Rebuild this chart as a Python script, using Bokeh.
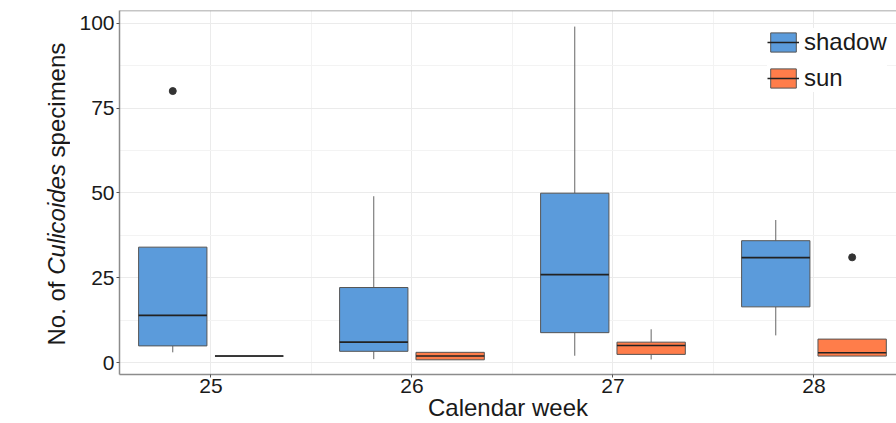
import math
from bokeh.plotting import figure
from bokeh.layouts import row, column
from bokeh.models import (ColumnDataSource, FixedTicker, Span, Legend,
                          LegendItem, Range1d)
from bokeh.core.properties import value
from bokeh.embed import file_html
from bokeh.resources import INLINE

# ---------------- data ----------------
weeks = [25, 26, 27, 28]
tick_values_y = [0, 25, 50, 75, 100]

shadow_low = [3.0, 1.0, 2.0, 8.0]
shadow_q1 = [4.9, 3.3, 8.8, 16.4]
shadow_median = [13.9, 6.0, 25.9, 30.9]
shadow_q3 = [34.0, 22.1, 49.9, 35.9]
shadow_high = [34.0, 49.0, 99.0, 42.0]
shadow_outlier_weeks = [25]
shadow_outlier_values = [80.0]

sun_low = [1.9, 0.8, 0.9, 1.9]
sun_q1 = [1.9, 0.8, 2.4, 1.9]
sun_median = [1.9, 1.9, 5.0, 2.9]
sun_q3 = [1.9, 3.0, 6.0, 6.9]
sun_high = [1.9, 3.0, 9.8, 6.9]
sun_outlier_weeks = [28]
sun_outlier_values = [31.0]

y_title_parts = ["No. of", "Culicoides", "specimens"]
y_title_styles = ["normal", "italic", "normal"]
x_title = "Calendar week"

# ---------------- layout ----------------
TOTAL_W, TOTAL_H = 896, 423
YT_W = 70                      # strip for the y title
MAIN_W = TOTAL_W - YT_W
FL, FR, FT, FB = 49, 0, 10, 49
FRAME_W = MAIN_W - FL - FR
X0, X1 = 24.545, 24.545 + FRAME_W / 201.0
Y0, Y1 = -3.53, 103.74
DODGE = 0.19
BOX_W = 0.34

FONT = "Liberation Sans"
BLUE = "#5b9bdb"
ORANGE = "#ff7d4a"
TEXT = "#1a1a1a"
AXIS = "#8c8c8c"

p = figure(width=MAIN_W, height=TOTAL_H, x_range=Range1d(X0, X1), y_range=Range1d(Y0, Y1),
           output_backend="svg", toolbar_location=None,
           min_border_left=FL, min_border_right=FR,
           min_border_top=FT, min_border_bottom=FB)
p.outline_line_color = None
p.background_fill_color = "white"
p.border_fill_color = "white"

# grids
p.xgrid.ticker = FixedTicker(ticks=weeks, minor_ticks=[w + 0.5 for w in weeks[:-1]])
p.ygrid.ticker = FixedTicker(ticks=tick_values_y,
                             minor_ticks=[t + 12.5 for t in tick_values_y[:-1]])
for g in (p.xgrid, p.ygrid):
    g.grid_line_color = "#ebebeb"
    g.grid_line_width = 1
    g.minor_grid_line_color = "#f3f3f3"
    g.minor_grid_line_width = 1

# axes
p.xaxis.ticker = FixedTicker(ticks=weeks)
p.yaxis.ticker = FixedTicker(ticks=tick_values_y)
for ax in (p.xaxis[0], p.yaxis[0]):
    ax.axis_line_color = AXIS
    ax.axis_line_width = 1.5
    ax.major_tick_line_color = "#555555"
    ax.major_tick_out = 3
    ax.major_tick_in = 0
    ax.minor_tick_line_color = None
    ax.major_label_text_font = FONT
    ax.major_label_text_font_size = "21px"
    ax.major_label_text_color = TEXT
p.yaxis.major_label_standoff = 2
p.xaxis.major_label_standoff = 1
p.xaxis.axis_label = x_title
p.xaxis.axis_label_text_font = FONT
p.xaxis.axis_label_text_font_size = "24px"
p.xaxis.axis_label_text_font_style = "normal"
p.xaxis.axis_label_text_color = TEXT
p.xaxis.axis_label_standoff = -2

# top border of the panel
p.add_layout(Span(location=Y1, dimension="width", line_color=AXIS, line_width=1.5))


def draw_group(offset, low, q1, med, q3, high, ow, ov, color):
    xs = [w + offset for w in weeks]
    src = ColumnDataSource(dict(
        x=xs, low=low, q1=q1, med=med, q3=q3, high=high,
        left=[x - BOX_W / 2 for x in xs], right=[x + BOX_W / 2 for x in xs]))
    p.segment(x0="x", y0="low", x1="x", y1="q1", source=src,
              line_color="#666666", line_width=1)
    p.segment(x0="x", y0="q3", x1="x", y1="high", source=src,
              line_color="#666666", line_width=1)
    box = p.quad(left="left", right="right", bottom="q1", top="q3", source=src,
                 fill_color=color, line_color="#555555", line_width=1)
    med_r = p.segment(x0="left", y0="med", x1="right", y1="med", source=src,
                      line_color="#222222", line_width=1.6)
    p.scatter(x=[w + offset for w in ow], y=ov, size=7, color="#333333")
    return box, med_r


sh_box, sh_med = draw_group(-DODGE, shadow_low, shadow_q1, shadow_median, shadow_q3,
                            shadow_high, shadow_outlier_weeks, shadow_outlier_values, BLUE)
su_box, su_med = draw_group(DODGE, sun_low, sun_q1, sun_median, sun_q3,
                            sun_high, sun_outlier_weeks, sun_outlier_values, ORANGE)

legend = Legend(items=[LegendItem(label="shadow", renderers=[sh_box, sh_med]),
                       LegendItem(label="sun", renderers=[su_box, su_med])],
                location=(648, 282),
                label_text_font=FONT, label_text_font_size="24px",
                label_text_color=TEXT,
                glyph_width=32, glyph_height=24, label_standoff=5,
                spacing=8, padding=5, margin=0,
                border_line_color=None, background_fill_color="white",
                background_fill_alpha=1.0)
p.add_layout(legend)

# y title strip: three pieces, rotated, middle one italic
yt = figure(width=YT_W, height=TOTAL_H, x_range=Range1d(0, YT_W),
            y_range=Range1d(0, TOTAL_H), output_backend="svg",
            toolbar_location=None, min_border=0)
yt.axis.visible = False
yt.grid.visible = False
yt.outline_line_color = None
yt.background_fill_color = "white"
yt.border_fill_color = "white"
yt_src = ColumnDataSource(dict(
    x=[55.5, 55.5, 55.5],
    y=[TOTAL_H - 345.0, TOTAL_H - 274.3, TOTAL_H - 156.9],
    text=y_title_parts, style=y_title_styles))
yt.text(x="x", y="y", text="text", source=yt_src, angle=math.pi / 2,
        text_align="left", text_baseline="middle",
        text_font=value(FONT), text_font_size=value("24px"),
        text_font_style="style", text_color=TEXT)

layout = row(yt, column(p, spacing=0), spacing=0)
open("out.html", "w").write(file_html(layout, INLINE))
